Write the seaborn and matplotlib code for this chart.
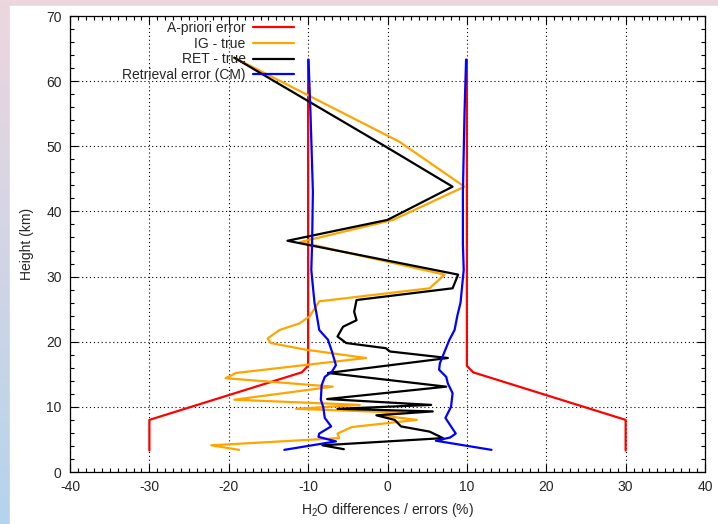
import numpy as np
import matplotlib
matplotlib.use("Agg")
import matplotlib.pyplot as plt
from matplotlib.patches import Rectangle
from matplotlib.ticker import MultipleLocator
import seaborn as sns

# A-priori error (two branches, +/-)
apriori_h = [3.3, 8.0, 15.3, 16.3, 63.3]
apriori_pos = [30.0, 30.0, 10.8, 10.0, 10.0]
apriori_neg = [-30.0, -30.0, -10.8, -10.0, -10.0]

# IG - true
ig_x = [-19.3, 1.5, 9.7, 0.7, -11.0, 7.2, 5.3, -8.6, -9.8, -11.1, -13.6, -15.1,
        -14.7, -10.0, -9.2, -2.7, -19.1, -20.4, -6.9, -19.3, -3.5, -11.5, 2.0,
        -1.0, 3.7, -4.5, -6.3, -6.1, -22.2, -18.7]
ig_h = [63.6, 50.7, 43.8, 38.7, 35.3, 30.3, 28.2, 26.2, 23.9, 22.8, 21.8, 20.5,
        19.8, 18.7, 18.6, 17.5, 15.2, 14.4, 13.1, 11.1, 10.3, 9.7, 9.1,
        8.7, 8.0, 6.9, 5.9, 5.2, 4.1, 3.4]

# RET - true
ret_x = [-19.3, -0.3, 8.2, 0.0, -12.6, 8.9, 8.2, -3.9, -4.2, -3.9, -5.6, -6.3,
         -5.2, -0.2, 0.3, 7.6, -7.5, 7.4, -7.6, 5.5, -6.3, 5.7, -1.4, 0.9,
         1.7, 5.3, 7.0, -8.2, -5.5]
ret_h = [63.6, 50.0, 43.8, 38.7, 35.5, 30.3, 28.2, 26.4, 24.6, 23.3, 22.3, 20.8,
         19.8, 19.0, 18.5, 17.5, 15.2, 13.1, 11.2, 10.3, 9.7, 9.3, 8.7, 8.0,
         7.0, 6.2, 5.2, 4.1, 3.5]

# Retrieval error (CM), right and left branches
cm_h_r = [63.3, 55, 43, 35, 31, 26, 24, 21.8, 20.3, 18.5, 16.7, 15.7, 14.6,
          13.6, 12.1, 10, 8.3, 7.0, 5.9, 5.3, 4.8, 3.4]
cm_pos = [9.9, 9.7, 9.5, 9.5, 9.6, 9.2, 8.8, 8.45, 7.8, 7.2, 6.6, 6.5, 7.4,
          7.6, 8.2, 8.0, 7.3, 8.0, 8.6, 7.9, 6.1, 13.1]
cm_h_l = [63.3, 55, 43, 35, 31, 26, 24, 21.8, 20.3, 18.5, 16.4, 15.4, 14.6,
          13.3, 11.1, 10, 8.3, 7.0, 5.9, 5.4, 4.7, 3.4]
cm_neg = [-9.95, -9.7, -9.4, -9.5, -9.6, -9.2, -8.9, -8.6, -7.5, -7.0, -6.5,
          -7.0, -7.9, -8.3, -8.4, -8.1, -7.9, -7.1, -8.6, -8.7, -6.5, -13.0]

sns.set_style("ticks")
plt.rcParams['font.family'] = ['Liberation Sans', 'DejaVu Sans']
plt.rcParams['mathtext.default'] = 'regular'
plt.rcParams['axes.unicode_minus'] = False

fig = plt.figure(figsize=(7.18, 5.24), dpi=100)

# screenshot-like frame
bg = fig.add_axes([0, 0, 1, 1], zorder=-10)
grad = np.linspace(0, 1, 256).reshape(-1, 1)
top_c = np.array([0.93, 0.84, 0.87])
bot_c = np.array([0.71, 0.83, 0.93])
img = top_c[None, None, :] * (1 - grad[:, :, None]) + bot_c[None, None, :] * grad[:, :, None]
bg.imshow(np.repeat(img, 4, axis=1), aspect='auto', extent=[0, 1, 0, 1])
bg.add_patch(Rectangle((10 / 718, 0), 1, 1 - 6 / 524, color='white'))
bg.set_xlim(0, 1)
bg.set_ylim(0, 1)
bg.axis('off')

ax = fig.add_axes([70 / 718, 52 / 524, 635 / 718, 456 / 524])

lw = 1.6
sns.lineplot(x=apriori_pos, y=apriori_h, sort=False, estimator=None, color='#ff0000', lw=lw, ax=ax)
sns.lineplot(x=apriori_neg, y=apriori_h, sort=False, estimator=None, color='#ff0000', lw=lw, ax=ax)
sns.lineplot(x=ig_x, y=ig_h, sort=False, estimator=None, color='#ffa500', lw=lw, ax=ax)
sns.lineplot(x=ret_x, y=ret_h, sort=False, estimator=None, color='black', lw=lw, ax=ax)
sns.lineplot(x=cm_pos, y=cm_h_r, sort=False, estimator=None, color='#0000ff', lw=lw, ax=ax)
sns.lineplot(x=cm_neg, y=cm_h_l, sort=False, estimator=None, color='#0000ff', lw=lw, ax=ax)

ax.set_xlim(-40, 40)
ax.set_ylim(0, 70)
ax.xaxis.set_major_locator(MultipleLocator(10))
ax.xaxis.set_minor_locator(MultipleLocator(1))
ax.yaxis.set_major_locator(MultipleLocator(10))
ax.yaxis.set_minor_locator(MultipleLocator(2))
ax.tick_params(which='both', direction='in', top=True, right=True, labelsize=10,
               color='black', width=0.8)
ax.tick_params(which='major', length=6, pad=6)
ax.tick_params(which='minor', length=3)
for s in ax.spines.values():
    s.set_color('black')
    s.set_linewidth(0.9)
ax.grid(True, which='major', color='black', linestyle=(0, (1, 2.5)), lw=0.8)
ax.set_axisbelow(True)

ax.set_xlabel(r'H$_2$O differences / errors (%)', fontsize=10, labelpad=5)
ax.set_ylabel('Height (km)', fontsize=10, labelpad=9)

handles = [
    plt.Line2D([], [], color='#ff0000', lw=lw),
    plt.Line2D([], [], color='#ffa500', lw=lw),
    plt.Line2D([], [], color='black', lw=lw),
    plt.Line2D([], [], color='#0000ff', lw=lw),
]
labels = ['A-priori error', 'IG - true', 'RET - true', 'Retrieval error (CM)']
ax.legend(handles, labels, loc='upper right', bbox_to_anchor=(0.364, 1.004),
          markerfirst=False, frameon=False, fontsize=10, borderpad=0,
          handlelength=3.0, handletextpad=0.5, labelspacing=0.12)

fig.savefig("out.png", dpi=100)
